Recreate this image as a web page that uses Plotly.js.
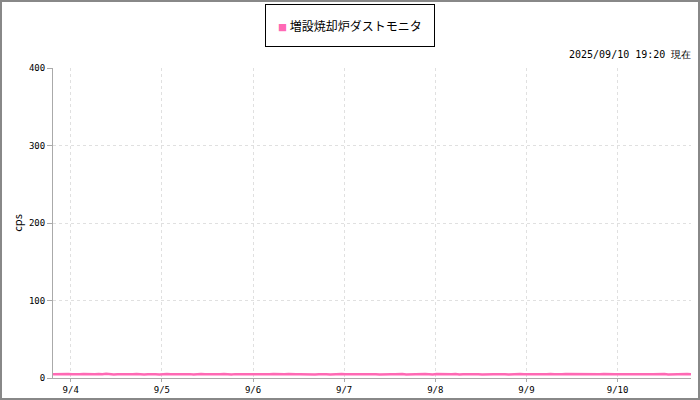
<!DOCTYPE html>
<html>
<head>
<meta charset="utf-8">
<script src="https://cdn.plot.ly/plotly-3.0.1.min.js"></script>
<style>
  body { margin: 0; background: #fff; }
  #frame { width: 696px; height: 396px; border: 2px solid #888; }
  #chart { width: 696px; height: 396px; }
</style>
</head>
<body>
<div id="frame"><div id="chart"></div></div>
<script>
// hourly readings, 2025/09/03 19:20 .. 2025/09/10 19:20
let seriesName = '増設焼却炉ダストモニタ';
let startTime = '2025-09-03T19:20:00';
let stepMinutes = 60;
let dustValues = [
	4.8, 5.1, 4.6, 4.9, 5.3, 4.7, 4.5, 5.0, 5.2, 4.8, 4.4, 4.9,
	5.1, 4.7, 5.4, 4.9, 4.6, 5.0, 4.8, 5.2, 4.5, 4.9, 5.1, 4.7,
	4.6, 5.0, 5.3, 4.8, 4.5, 4.9, 5.2, 4.7, 4.9, 5.1, 4.6, 4.8,
	5.0, 4.4, 4.9, 5.2, 4.8, 4.6, 5.1, 4.9, 4.7, 5.3, 4.8, 4.5,
	5.0, 4.9, 4.6, 5.2, 4.8, 4.7, 5.1, 4.9, 4.5, 4.8, 5.2, 5.0,
	4.7, 4.9, 5.3, 4.6, 4.8, 5.0, 4.7, 5.1, 4.9, 4.5, 4.8, 5.2,
	4.9, 4.6, 5.0, 4.8, 5.3, 4.7, 4.9, 5.1, 4.6, 4.8, 5.0, 4.7,
	5.2, 4.9, 4.5, 4.8, 5.1, 4.9, 4.7, 5.0, 5.2, 4.6, 4.8, 5.0,
	4.9, 4.7, 5.1, 4.8, 4.5, 5.2, 4.9, 4.7, 5.0, 4.8, 5.3, 4.6,
	4.9, 5.1, 4.7, 4.8, 5.0, 4.6, 4.9, 5.2, 4.8, 4.7, 5.1, 4.9,
	4.5, 4.8, 5.0, 5.2, 4.7, 4.9, 4.6, 5.1, 4.8, 5.0, 4.7, 5.3,
	4.9, 4.6, 4.8, 5.1, 5.0, 4.7, 4.9, 5.2, 4.6, 4.8, 5.0, 4.9,
	4.7, 5.1, 4.8, 4.5, 5.0, 4.9, 5.2, 4.7, 4.8, 5.0, 4.6, 4.9,
	5.1, 4.8, 4.7, 5.0, 4.9, 5.2, 4.6, 4.8, 5.0, 4.7, 4.9, 5.1,
	4.8
];
let yTicks = [0, 100, 200, 300, 400];
let stampText = '2025/09/10 19:20 現在';
let lineColor = '#ff69b4';

let t0 = new Date(startTime + 'Z').getTime();
let times = dustValues.map((v, i) =>
	new Date(t0 + i * stepMinutes * 60000).toISOString().slice(0, 19).replace('T', ' '));

let mono = 'DejaVu Sans Mono, monospace';

let traces = [{
	x: times,
	y: dustValues,
	type: 'scatter',
	mode: 'lines',
	line: {color: lineColor, width: 2.5},
	showlegend: false,
	hoverinfo: 'skip'
}];

let layout = {
	width: 696,
	height: 396,
	margin: {l: 51, r: 7, t: 66, b: 20},
	paper_bgcolor: '#fff',
	plot_bgcolor: '#fff',
	showlegend: false,
	xaxis: {
		type: 'date',
		range: [times[0], times[times.length - 1]],
		tick0: '2025-09-04',
		dtick: 86400000,
		tickformat: '%-m/%-d',
		ticks: 'outside',
		ticklen: 3,
		tickcolor: '#aaa',
		showline: true,
		linecolor: '#aaa',
		linewidth: 1,
		showgrid: true,
		gridcolor: '#e0e0e0',
		griddash: '3px,3px',
		zeroline: false,
		tickfont: {family: mono, size: 9, color: '#000'}
	},
	yaxis: {
		range: [0, 400],
		tickvals: yTicks,
		ticks: 'outside',
		ticklen: 5,
		tickcolor: '#aaa',
		showline: true,
		linecolor: '#aaa',
		linewidth: 1,
		showgrid: true,
		gridcolor: '#e0e0e0',
		griddash: '3px,3px',
		zeroline: false,
		tickfont: {family: mono, size: 9, color: '#000'},
		title: {text: 'cps', standoff: 4, font: {family: 'Noto Sans CJK JP, sans-serif', size: 11, color: '#000'}}
	},
	annotations: [{
		xref: 'paper', yref: 'paper',
		x: 0.5, y: 1, xshift: -22, yshift: 64,
		xanchor: 'center', yanchor: 'top',
		showarrow: false,
		text: '<span style="color:' + lineColor + ';font-size:9px">■</span> ' + seriesName,
		font: {family: 'Noto Sans CJK JP, sans-serif', size: 12, color: '#000'},
		bordercolor: '#000',
		borderwidth: 1,
		borderpad: 12,
		bgcolor: '#fff'
	}, {
		xref: 'paper', yref: 'paper',
		x: 1, y: 1, xshift: 2, yshift: 6,
		xanchor: 'right', yanchor: 'bottom',
		showarrow: false,
		text: stampText,
		font: {family: mono, size: 10, color: '#000'}
	}]
};

Plotly.newPlot('chart', traces, layout, {staticPlot: true});
</script>
</body>
</html>
